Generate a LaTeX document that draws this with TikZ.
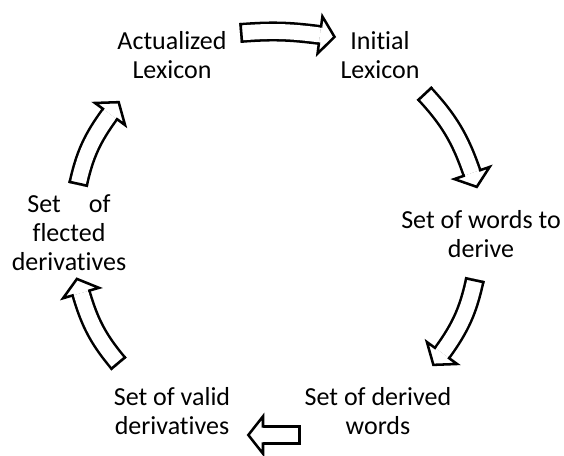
\documentclass[tikz,border=0pt]{standalone}
\usepackage{fontspec}
\setmainfont{Carlito}[Ligatures=NoCommon]
\usetikzlibrary{decorations.markings}
\tikzset{
    lbl/.style={align=center, inner sep=1pt, font=\fontsize{19.5pt}{21.75pt}\selectfont},
    blockarrow/.style={
        preaction={draw=black, line width=15pt},
        draw=white, line width=11.2pt,
        postaction={decorate, decoration={markings,
            mark=at position 0 with {\draw[black, line width=1.9pt] (0.95pt,-7.5pt) -- (0.95pt,7.5pt);},
            mark=at position 1 with {\fill[white] (0,-14pt) -- (11pt,0) -- (0,14pt) -- cycle;
                \draw[black, line width=1.9pt, line join=miter] (0,-5.6pt) -- (0,-14pt) -- (11pt,0) -- (0,14pt) -- (0,5.6pt);}}}},
}

\begin{document}
\begin{tikzpicture}[x=0.75pt, y=-0.75pt]
\useasboundingbox (0,0) rectangle (564,455);
\node[lbl] (act) at (172, 55) {Actualized\\Lexicon};
\node[lbl] (ini) at (380, 55) {Initial\\Lexicon};
\node[lbl] (wrd) at (481, 234) {Set of words to\\derive};
\node[lbl] (der) at (378, 411) {Set of derived\\words};
\node[lbl] (val) at (172, 411) {Set of valid\\derivatives};
\node[lbl] (flx) at (69, 233) {Set\hspace{21pt}of\\flected\\derivatives};

\draw[blockarrow] ([shift={(68,-22)}]act.center) to[bend left=6] ([shift={(-60,-20)}]ini.center);
\draw[blockarrow] ([shift={(44,38)}]ini.center) to[bend left=12] ([shift={(-9,-61)}]wrd.center);
\draw[blockarrow] ([shift={(-6,45)}]wrd.center) to[bend left=12] ([shift={(64,-58)}]der.center);
\draw[blockarrow] ([shift={(-77,24)}]der.center) -- ([shift={(91,24)}]val.center);
\draw[blockarrow] ([shift={(-53,-47)}]val.center) to[bend left=12] ([shift={(12,60)}]flx.center);
\draw[blockarrow] ([shift={(9,-48)}]flx.center) to[bend left=12] ([shift={(-62,59)}]act.center);
\end{tikzpicture}
\end{document}
